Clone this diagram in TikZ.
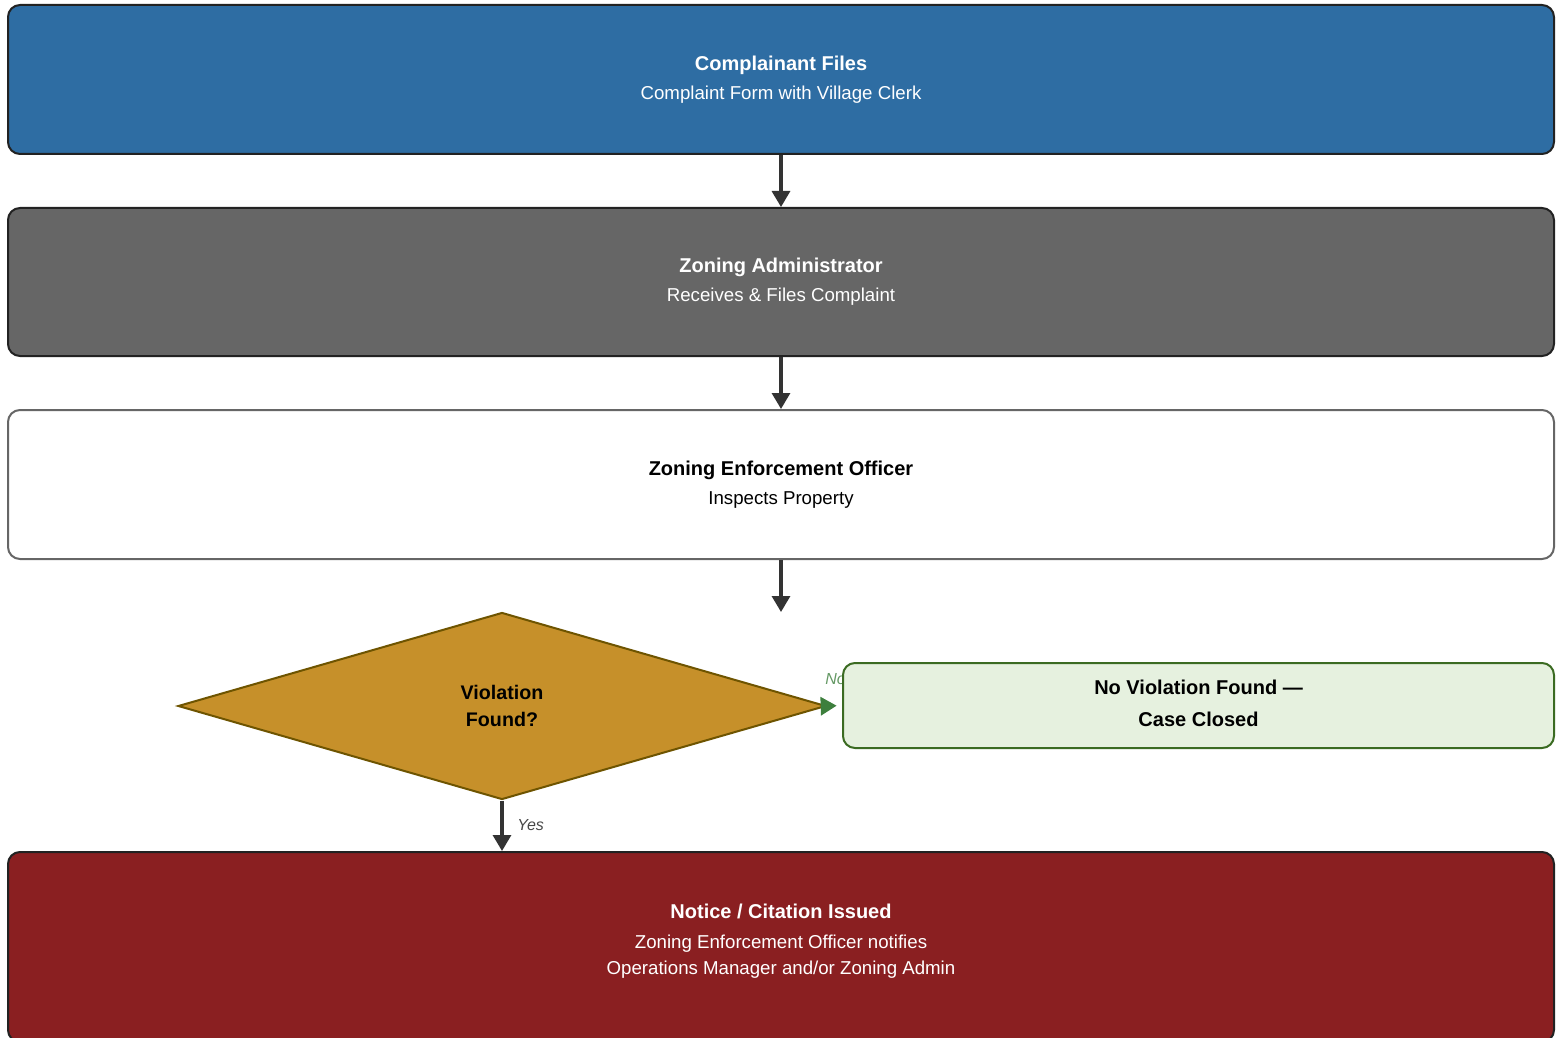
\documentclass[tikz,border=0pt]{standalone}
\usepackage{fontspec}
\setmainfont{Liberation Sans}
\usetikzlibrary{arrows.meta,shapes.geometric}
\definecolor{cblue}{HTML}{2E6DA3}
\definecolor{cgray}{HTML}{666666}
\definecolor{cgold}{HTML}{C6902A}
\definecolor{cgoldb}{HTML}{6E5400}
\definecolor{cgreenf}{HTML}{E6F1DF}
\definecolor{cgreenb}{HTML}{3B6B22}
\definecolor{cgreena}{HTML}{3D7F3D}
\definecolor{cred}{HTML}{8A1F21}
\definecolor{cdark}{HTML}{333333}
\definecolor{cborder}{HTML}{222222}
\begin{document}
\begin{tikzpicture}[x=0.75pt,y=-0.75pt,
  box/.style={rectangle,rounded corners=9pt,line width=1.5pt,draw=cborder,
    minimum width=1159.5pt,inner sep=0pt,align=center,
    font=\fontsize{14pt}{19.5pt}\selectfont},
  flow/.style={draw=cdark,line width=2.4pt,-{Triangle[width=13.5pt,length=12pt]}}]
\useasboundingbox (0,0) rectangle (1561,1038);
\newcommand\ttlx[1]{{\fontsize{15pt}{19.5pt}\selectfont\bfseries #1}}
\node[box,fill=cblue,text=white,minimum height=111.75pt] (b1) at (781,79.5)
  {\ttlx{Complainant Files}\\[2pt]Complaint Form with Village Clerk};
\node[box,fill=cgray,text=white,minimum height=111pt] (b2) at (781,282)
  {\ttlx{Zoning Administrator}\\[2.5pt]Receives \& Files Complaint};
\node[box,fill=white,draw=cgray,text=black,minimum height=111.75pt] (b3) at (781,484.5)
  {\ttlx{Zoning Enforcement Officer}\\[2pt]Inspects Property};
\coordinate (c1) at (781,612);
\node[diamond,fill=cgold,draw=cgoldb,line width=1.5pt,inner sep=0pt,
  minimum width=486pt,minimum height=140.25pt,aspect=3.45,align=center,
  font=\fontsize{14.75pt}{20.25pt}\selectfont\bfseries] (d) at (502,706)
  {Violation\\Found?};
\node[font=\fontsize{12pt}{13pt}\selectfont\itshape,text=cgreena!80!white,anchor=west,inner sep=0pt] (nolab) at (825,679) {No};
\node[box,fill=cgreenf,draw=cgreenb,minimum width=533.25pt,minimum height=63.75pt,
  font=\fontsize{15pt}{24pt}\selectfont\bfseries] (nb) at (1198.5,705.5)
  {No Violation Found —\\Case Closed\\[-20pt]};
\node[box,fill=cred,text=white,minimum height=142.5pt] (b4) at (781,947)
  {\ttlx{Notice / Citation Issued}\\[3pt]Zoning Enforcement Officer notifies\\Operations Manager and/or Zoning Admin\\[-8pt]};
\node[font=\fontsize{12pt}{13pt}\selectfont\itshape,text=cdark!90!white,anchor=west,inner sep=0pt] (yeslab) at (517,825) {Yes};
\draw[flow] (b1.south) -- (b2.north);
\draw[flow] (b2.south) -- (b3.north);
\draw[flow] (b3.south) -- (c1);
\draw[draw=cgreena,line width=2.4pt,-{Triangle[width=13.5pt,length=12pt]},shorten >=4pt] (d.east) -- (nb.west);
\draw[flow] (d.south) -- (d.south |- b4.north);
\end{tikzpicture}
\end{document}
